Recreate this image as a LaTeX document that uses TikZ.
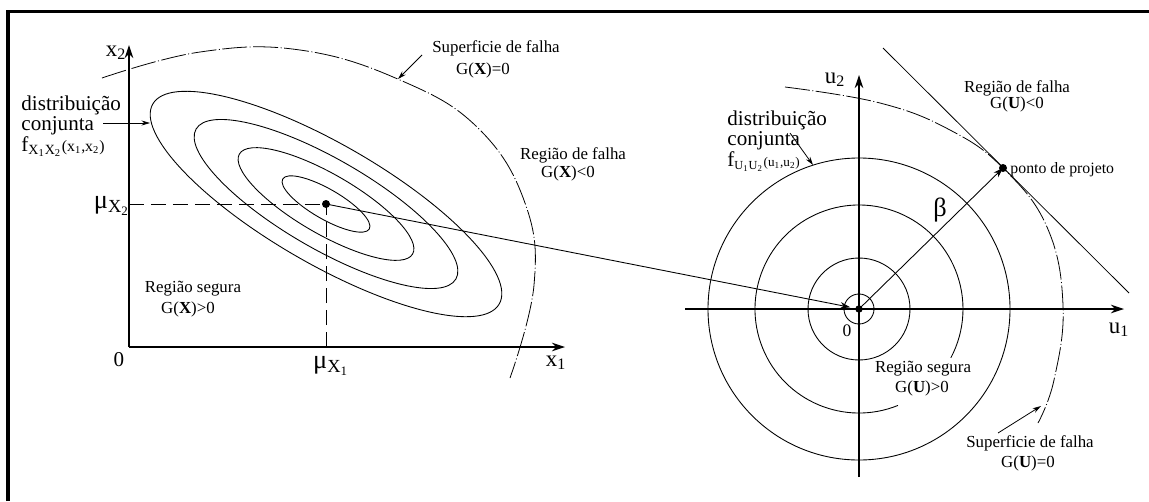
\documentclass[tikz,border=0pt]{standalone}
\usepackage{fontspec}
\setmainfont{Liberation Serif}
\usetikzlibrary{arrows.meta}

\begin{document}
\begin{tikzpicture}[x=0.02cm, y=-0.02cm, >=Stealth, line width=0.5pt,
    eixo/.style={-{Stealth[length=0.26cm,width=0.17cm]}, line width=0.6pt},
    seta/.style={-{Stealth[length=0.17cm,width=0.1cm]}, line width=0.45pt},
    falha/.style={line width=0.45pt, dash pattern=on 0.5cm off 0.05cm on 0.02cm off 0.05cm},
    tracejada/.style={dash pattern=on 0.3cm off 0.14cm},
    rot/.style={font=\fontsize{9.6}{11}\selectfont, inner sep=0pt},
    rotgrande/.style={font=\fontsize{12}{9.8}\selectfont, inner sep=0pt, align=left, anchor=west},
    rotcurto/.style={font=\fontsize{13}{13}\selectfont, inner sep=0pt}]
    \useasboundingbox (0,0) rectangle (1149,501);
    % moldura
    \draw[line width=0.065cm] (8,501) -- (8,11.7) -- (1149,11.7);
    % espaco original X
    \coordinate (O) at (129,347);
    \coordinate (X1) at (565,347);
    \coordinate (X2) at (129,45);
    \coordinate (M) at (326,204);
    \draw[eixo] (O) -- (X1);
    \draw[eixo] (O) -- (X2);
    \node[rotcurto] (lx1) at (556,363) {x\textsubscript{1}};
    \node[rotcurto] (lx2) at (116,53) {x\textsubscript{2}};
    \node[font=\fontsize{12}{12}\selectfont, inner sep=0pt] (l0X) at (119,360) {0};
    \draw[tracejada] (O |- M) -- (M);
    \draw[tracejada] (M |- O) -- (M);
    \node[anchor=east, inner sep=0pt, font=\fontsize{15}{15}\selectfont] (muX2) at (130,206) {μ\textsubscript{X\textsubscript{2}}};
    \node[inner sep=0pt, font=\fontsize{15}{15}\selectfont] (muX1) at (331,366) {μ\textsubscript{X\textsubscript{1}}};
    % curvas de nivel
    \foreach \k in {1,2,3,4}
        \draw[rotate around={-30:(M)}] (M) ellipse [x radius=50*\k, y radius=15*\k];
    \fill (M) circle [radius=4];
    % superficie de falha G(X)=0
    \draw[falha] plot[smooth, tension=0.7] coordinates {(102,78) (200,52) (300,50) (400,80) (478,128) (525,203) (534,285) (510,378)};
    \node[rot] (sfX) at (496,48) {Superficie de falha};
    \node[rot] (gX0) at (483,70) {G(\textbf{X})=0};
    \coordinate (sfXt) at (422,55);
    \coordinate (sfXp) at (398,79);
    \draw[seta] (sfXt) -- (sfXp);
    \node[rot] (rfX) at (573,155) {Região de falha};
    \node[rot] (gXn) at (568,173) {G(\textbf{X})<0};
    \node[rot] (rsX) at (193,289) {Região segura};
    \node[rot] (gXp) at (188,309) {G(\textbf{X})>0};
    \node[rotgrande] (djX) at (21,126) {distribuição\\conjunta\\f\textsubscript{X\textsubscript{1}X\textsubscript{2}}{\fontsize{9}{10}\selectfont(x\textsubscript{1},x\textsubscript{2})}};
    \coordinate (djXt) at (103,123);
    \coordinate (djXp) at (150,123);
    \draw[seta] (djXt) -- (djXp);
    % espaco padrao U
    \coordinate (U) at (859,309);
    \coordinate (U1a) at (685,309);
    \coordinate (U1) at (1124,309);
    \coordinate (U2a) at (859,477);
    \coordinate (U2) at (859,75);
    \draw[-{Stealth[length=0.2cm,width=0.13cm]}, shorten >=0.18cm] (M) -- (U);
    \draw[eixo] (U1a) -- (U1);
    \draw[eixo] (U2a) -- (U2);
    \node[rotcurto] (lu1) at (1119,330) {u\textsubscript{1}};
    \node[rotcurto] (lu2) at (835,80) {u\textsubscript{2}};
    \node[font=\fontsize{10}{10}\selectfont, inner sep=0pt] (l0U) at (847,331) {0};
    \foreach \r in {15,51,151}
        \draw (U) circle [radius=\r];
    \draw (U) ++(68:104) arc [start angle=68, end angle=388, radius=104];
    \fill (U) circle [radius=3.7];
    % superficie de falha G(U)=0 e ponto de projeto
    \draw[falha] plot[smooth, tension=0.7] coordinates {(785,87) (880,103) (950,130) (1003,168) (1047,227) (1063,305) (1054,380) (1038,423)};
    \coordinate (tA) at (883,48);
    \coordinate (tB) at (1129,293);
    \coordinate (P) at (1003,168);
    \draw[line width=0.45pt] (tA) -- (tB);
    \draw[-{Stealth[length=0.2cm,width=0.13cm]}] (U) -- (P);
    \fill (P) circle [radius=4];
    \node[font=\fontsize{15}{15}\selectfont, inner sep=0pt] (beta) at (940,210) {β};
    \node[font=\fontsize{9}{10}\selectfont, anchor=west, inner sep=0pt] (pp) at (1010,170) {ponto de projeto};
    \node[rot] (rfU) at (1017,88) {Região de falha};
    \node[rot] (gUn) at (1017,104) {G(\textbf{U})<0};
    \node[rot] (rsU) at (923,369) {Região segura};
    \node[rot] (gUp) at (922,388) {G(\textbf{U})>0};
    \node[rot] (sfU) at (1030,443) {Superficie de falha};
    \node[rot] (gU0) at (1028,463) {G(\textbf{U})=0};
    \coordinate (sfUt) at (998,433);
    \coordinate (sfUp) at (1041,406);
    \draw[seta] (sfUt) -- (sfUp);
    \node[rotgrande] (djU) at (727,141) {distribuição\\conjunta\\f{\fontsize{10}{10}\selectfont\textsubscript{U\textsubscript{1}U\textsubscript{2}}}{\fontsize{7.5}{9}\selectfont(u\textsubscript{1},u\textsubscript{2})}};
    \coordinate (djUt) at (790,133);
    \coordinate (djUp) at (813,165);
    \draw[seta] (djUt) -- (djUp);
\end{tikzpicture}
\end{document}
